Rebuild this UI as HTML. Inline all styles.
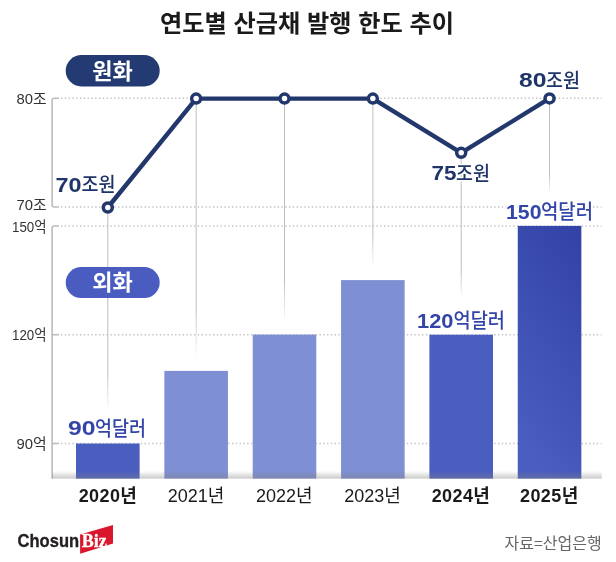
<!DOCTYPE html>
<html lang="ko">
<head>
<meta charset="utf-8">
<title>연도별 산금채 발행 한도 추이</title>
<style>
html,body{margin:0;padding:0;background:#fff;}
body{width:616px;height:562px;overflow:hidden;}
svg{display:block;}
text{font-family:"Liberation Sans","Noto Sans CJK KR","NanumGothic",sans-serif;}
.serif{font-family:"Liberation Serif",serif;}
.kr{font-family:"Noto Sans CJK KR","NanumGothic",sans-serif;}
</style>
</head>
<body>
<svg width="616" height="562" viewBox="0 0 616 562">
<defs>
<linearGradient id="floor" x1="0" y1="0" x2="0" y2="1">
<stop offset="0" stop-color="#808080" stop-opacity="0"/>
<stop offset="1" stop-color="#808080" stop-opacity="0.42"/>
</linearGradient>
<linearGradient id="bar25" x1="0.8" y1="0" x2="0.45" y2="1">
<stop offset="0" stop-color="#3343a6"/>
<stop offset="1" stop-color="#4a5ec0"/>
</linearGradient>
<linearGradient id="guide" x1="0" y1="0" x2="0" y2="1">
<stop offset="0" stop-color="#bdbdbd"/>
<stop offset="0.8" stop-color="#bdbdbd"/>
<stop offset="1" stop-color="#bdbdbd" stop-opacity="0"/>
</linearGradient>
</defs>
<rect width="616" height="562" fill="#fff"/>

<!-- title -->
<text x="307" y="31.5" text-anchor="middle" font-size="24.2" font-weight="700" fill="#1a1a1a" class="kr">연도별 산금채 발행 한도 추이</text>

<!-- gridlines -->
<g stroke="#c4c4c4" stroke-width="1.4" stroke-dasharray="1.4 2.4" fill="none">
<line x1="61" y1="98.2" x2="601.5" y2="98.2"/>
<line x1="61" y1="207" x2="601.5" y2="207"/>
<line x1="61" y1="226" x2="601.5" y2="226"/>
<line x1="61" y1="334.7" x2="601.5" y2="334.7"/>
<line x1="61" y1="443.5" x2="601.5" y2="443.5"/>
</g>
<!-- axis -->
<g stroke="#bcbcbc" stroke-width="1.6" fill="none">
<path d="M59,98.2 H54.1 Q52.1,98.2 52.1,100.2 V205 Q52.1,207 54.1,207 H59"/>
<path d="M59,226 H54.1 Q52.1,226 52.1,228 V478.6"/>
<line x1="52.1" y1="334.7" x2="59" y2="334.7"/>
<line x1="52.1" y1="443.5" x2="59" y2="443.5"/>
</g>
<!-- vertical guide lines -->
<g fill="url(#guide)">
<rect x="107.30" y="207" width="1" height="205.0"/>
<rect x="195.65" y="98.6" width="1" height="261.4"/>
<rect x="284.00" y="98.6" width="1" height="224.4"/>
<rect x="372.35" y="98.6" width="1" height="169.4"/>
<rect x="460.70" y="152.8" width="1" height="147.2"/>
<rect x="549.05" y="98.4" width="1" height="94.6"/>
</g>

<!-- bars -->
<rect x="76.00" y="443.5" width="63.6" height="35.1" fill="#4a5ec0"/>
<rect x="164.35" y="370.9" width="63.6" height="107.7" fill="#7f8fd3"/>
<rect x="252.70" y="334.6" width="63.6" height="144.0" fill="#7f8fd3"/>
<rect x="341.05" y="280.1" width="63.6" height="198.5" fill="#7f8fd3"/>
<rect x="429.40" y="334.7" width="63.6" height="143.9" fill="#4a5ec0"/>
<rect x="517.75" y="225.9" width="63.6" height="252.7" fill="url(#bar25)"/>
<!-- floor shadow -->
<rect x="52" y="471" width="549.8" height="7.6" fill="url(#floor)"/>

<!-- line -->
<polyline points="107.8,207.5 196.15,98.6 284.5,98.6 372.85,98.6 461.2,152.8 549.55,98.4" fill="none" stroke="#22376b" stroke-width="4.4" stroke-linejoin="round" stroke-linecap="round"/>
<g fill="#fff" stroke="#22376b" stroke-width="3.5">
<circle cx="107.8" cy="207.5" r="4.5"/>
<circle cx="196.15" cy="98.6" r="4.5"/>
<circle cx="284.5" cy="98.6" r="4.5"/>
<circle cx="372.85" cy="98.6" r="4.5"/>
<circle cx="461.2" cy="152.8" r="4.5"/>
<circle cx="549.55" cy="98.4" r="4.5"/>
</g>

<!-- pills -->
<rect x="65.7" y="55.1" width="94" height="31.3" rx="15.65" fill="#243a72"/>
<text x="112.5" y="78.7" text-anchor="middle" font-size="22" font-weight="700" fill="#fff" class="kr">원화</text>
<rect x="65.7" y="267.1" width="94" height="30.9" rx="15.45" fill="#4a5cc0"/>
<text x="112.5" y="289.8" text-anchor="middle" font-size="22" font-weight="700" fill="#fff" class="kr">외화</text>

<!-- y axis labels -->
<g font-size="14.8" fill="#333" text-anchor="end">
<text x="46.5" y="103.5">80조</text>
<text x="46.5" y="209.5">70조</text>
<text x="46.5" y="231.5" textLength="34.5" lengthAdjust="spacingAndGlyphs">150억</text>
<text x="46.5" y="340" textLength="34.5" lengthAdjust="spacingAndGlyphs">120억</text>
<text x="46.5" y="448.5">90억</text>
</g>

<!-- value labels -->
<g fill="#1f3468" font-size="20" font-weight="500" stroke="#fff" stroke-width="3" stroke-linejoin="round" paint-order="stroke">
<text x="55.5" y="191.7" font-size="20.5" font-weight="700" textLength="26" lengthAdjust="spacingAndGlyphs">70</text>
<text x="81.5" y="192" class="kr" textLength="34" lengthAdjust="spacingAndGlyphs">조원</text>
<text x="431.5" y="180.4" font-size="20.5" font-weight="700" textLength="25" lengthAdjust="spacingAndGlyphs">75</text>
<text x="456" y="180.8" class="kr" textLength="34" lengthAdjust="spacingAndGlyphs">조원</text>
<text x="519" y="87.2" font-size="20.5" font-weight="700" textLength="27.5" lengthAdjust="spacingAndGlyphs">80</text>
<text x="546" y="87.6" class="kr" textLength="34" lengthAdjust="spacingAndGlyphs">조원</text>
</g>
<g fill="#3445a8" font-size="20" font-weight="500" stroke="#fff" stroke-width="3" stroke-linejoin="round" paint-order="stroke">
<text x="68" y="435.4" font-size="20.5" font-weight="700" textLength="27.5" lengthAdjust="spacingAndGlyphs">90</text>
<text x="95" y="436" class="kr" textLength="51" lengthAdjust="spacingAndGlyphs">억달러</text>
<text x="417" y="327.7" font-size="20.5" font-weight="700" textLength="36.5" lengthAdjust="spacingAndGlyphs">120</text>
<text x="453.5" y="328" class="kr" textLength="51.5" lengthAdjust="spacingAndGlyphs">억달러</text>
<text x="506" y="218.8" font-size="20.5" font-weight="700" textLength="35.5" lengthAdjust="spacingAndGlyphs">150</text>
<text x="541" y="219.2" class="kr" textLength="52" lengthAdjust="spacingAndGlyphs">억달러</text>
</g>

<!-- x labels -->
<g font-size="18" fill="#1a1a1a" text-anchor="middle">
<text x="108" y="501.5" font-weight="700" letter-spacing="0.4">2020년</text>
<text x="196" y="501.5">2021년</text>
<text x="284.3" y="501.5">2022년</text>
<text x="372.6" y="501.5">2023년</text>
<text x="461" y="501.5" font-weight="700" letter-spacing="0.4">2024년</text>
<text x="549.3" y="501.5" font-weight="700" letter-spacing="0.4">2025년</text>
</g>

<!-- logo -->
<text x="17.6" y="547" font-size="19" font-weight="700" fill="#231f20" stroke="#231f20" stroke-width="0.35" textLength="61.5" lengthAdjust="spacingAndGlyphs">Chosun</text>
<polygon points="80.1,534.6 113,524.9 113,543.6 80.1,553.7" fill="#d9162b"/>
<text x="81.8" y="546.8" font-size="18" font-weight="700" fill="#fff" stroke="#fff" stroke-width="0.3" class="serif" textLength="25" lengthAdjust="spacingAndGlyphs">Biz</text>

<!-- source -->
<text x="601.7" y="548.6" text-anchor="end" font-size="16" fill="#666" class="kr">자료=산업은행</text>
</svg>
</body>
</html>
